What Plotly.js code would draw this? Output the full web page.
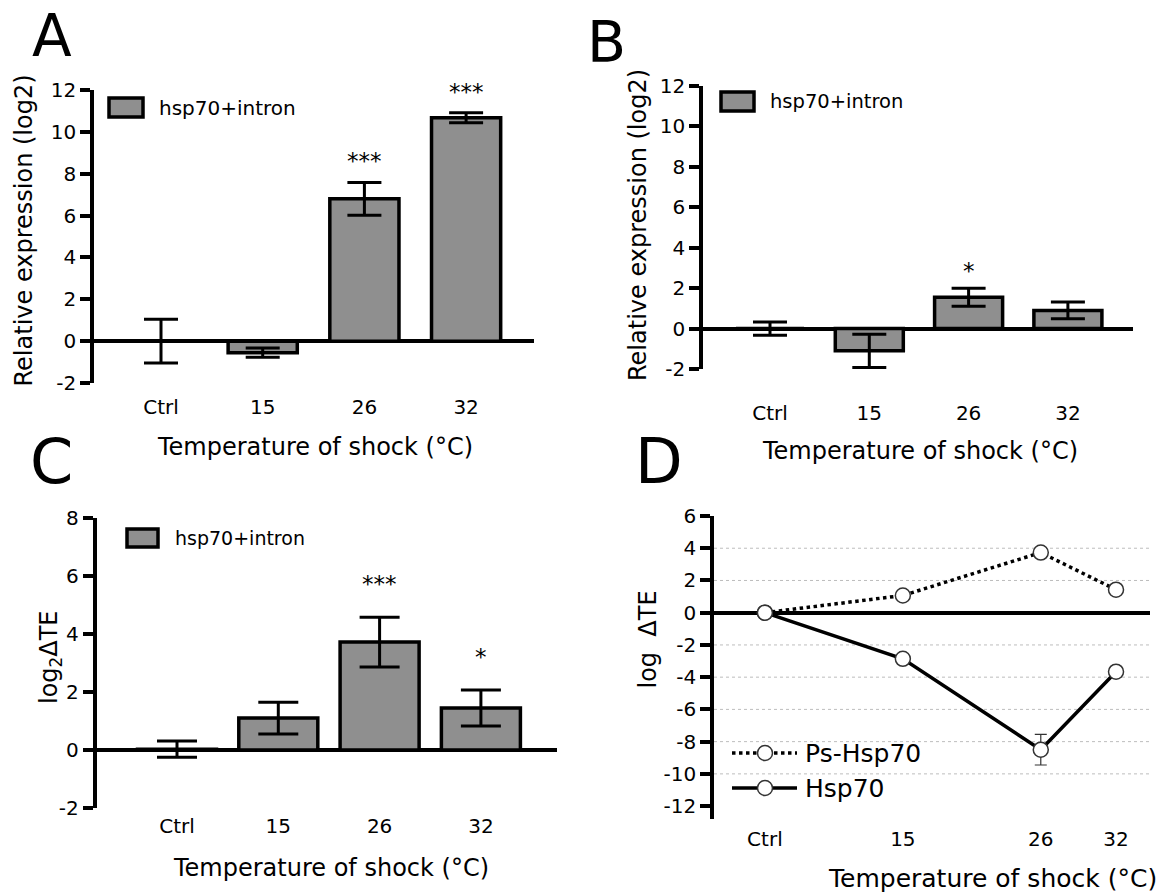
<!DOCTYPE html>
<html><head><meta charset="utf-8">
<script src="https://cdn.plot.ly/plotly-3.0.1.min.js"></script>
<style>html,body{margin:0;padding:0;background:#fff}#chart{width:1158px;height:892px}</style>
</head><body><div id="chart"></div>
<script>
// ---- data ----
const categories = ['Ctrl', '15', '26', '32'];
const barLegendName = 'hsp70+intron';

const panelAMean = [0, -0.55, 6.8, 10.67];
const panelAErr = [1.05, 0.22, 0.78, 0.24];
const panelAStars = ['', '', '***', '***'];

const panelBMean = [0, -1.1, 1.55, 0.9];
const panelBErr = [0.33, 0.82, 0.45, 0.42];
const panelBStars = ['', '', '*', ''];

const panelCMean = [0.03, 1.1, 3.72, 1.45];
const panelCErr = [0.28, 0.55, 0.86, 0.62];
const panelCStars = ['', '', '***', '*'];

const temperatureD = [4, 15, 26, 32];
const temperatureLabelsD = ['Ctrl', '15', '26', '32'];
const psHsp70Mean = [0, 1.07, 3.73, 1.43];
const psHsp70Err = [0.3, 0.2, 0.3, 0.2];
const hsp70Mean = [0, -2.86, -8.5, -3.66];
const hsp70Err = [0.3, 0.25, 0.95, 0.3];
const gridValuesD = [-10, -8, -6, -4, -2, 2, 4];

// y tick values and labels (plain hyphen for negatives, as in the figure)
const yTicksAB = [-2, 0, 2, 4, 6, 8, 10, 12];
const yTicksC = [-2, 0, 2, 4, 6, 8];
const yTicksD = [-12, -10, -8, -6, -4, -2, 0, 2, 4, 6];
const tickLabel = v => String(v).replace('\u2212', '-');

const xTitle = 'Temperature of shock (°C)';
const yTitleAB = 'Relative expression (log2)';
const yTitleC = 'log<sub>2</sub>ΔTE';
const yTitleD = 'log\u00a0\u00a0ΔTE';

// ---- helpers ----
const W = 1158, H = 892;
const fx = p => p / W;
const fy = p => 1 - p / H;
const FONT = 'DejaVu Sans, Arial, sans-serif';
const GRAY = '#8f8f8f';

function yAxis(domTop, domBot, range, anchor, ticks) {
  return {
    domain: [fy(domBot), fy(domTop)], range: range, anchor: anchor,
    showline: true, linecolor: '#000', linewidth: 3.5,
    ticks: 'outside', ticklen: 10, tickwidth: 3.5, tickcolor: '#000',
    tickmode: 'array', tickvals: ticks, ticktext: ticks.map(tickLabel),
    showgrid: false,
    zeroline: true, zerolinecolor: '#000', zerolinewidth: 4,
    tickfont: {family: FONT, size: 20, color: '#000'},
    automargin: false
  };
}
function xCatAxis(left, right, first, spacing, anchor, ticklen) {
  return {
    domain: [fx(left), fx(right)], anchor: anchor,
    type: 'category', categoryorder: 'array', categoryarray: categories,
    range: [(left - first) / spacing, (right - first) / spacing],
    showline: false, showgrid: false, zeroline: false,
    ticks: 'outside', ticklen: ticklen, tickcolor: 'rgba(0,0,0,0)',
    tickfont: {family: FONT, size: 20, color: '#000'},
    automargin: false
  };
}
function barTrace(means, errs, xa, ya, width, capw) {
  return {
    type: 'bar', x: categories, y: means, xaxis: xa, yaxis: ya,
    name: barLegendName, showlegend: false, width: width,
    marker: {color: GRAY, line: {color: '#000', width: 3.5}},
    error_y: {type: 'data', array: errs, visible: true, color: '#000', thickness: 3, width: capw}
  };
}

const traces = [
  barTrace(panelAMean, panelAErr, 'x', 'y', 0.68, 17),
  barTrace(panelBMean, panelBErr, 'x2', 'y2', 0.685, 17),
  barTrace(panelCMean, panelCErr, 'x3', 'y3', 0.78, 20),
  {
    type: 'scatter', mode: 'lines+markers', name: 'Hsp70', showlegend: false,
    x: temperatureD, y: hsp70Mean, xaxis: 'x4', yaxis: 'y4',
    line: {color: '#000', width: 3.5},
    marker: {symbol: 'circle', size: 15, color: '#fff', line: {color: '#333', width: 1.5}},
    error_y: {type: 'data', array: hsp70Err, visible: true, color: '#333', thickness: 1.2, width: 6}
  },
  {
    type: 'scatter', mode: 'lines+markers', name: 'Ps-Hsp70', showlegend: false,
    x: temperatureD, y: psHsp70Mean, xaxis: 'x4', yaxis: 'y4',
    line: {color: '#000', width: 3.5, dash: 'dot'},
    marker: {symbol: 'circle', size: 15, color: '#fff', line: {color: '#333', width: 1.5}},
    error_y: {type: 'data', array: psHsp70Err, visible: true, color: '#333', thickness: 1.2, width: 6}
  }
];

const annotations = [];
function paperText(t, xPx, yPx, size, opts) {
  annotations.push(Object.assign({text: t, xref: 'paper', yref: 'paper', x: fx(xPx), y: fy(yPx),
    xanchor: 'left', yanchor: 'middle', showarrow: false,
    font: {family: FONT, size: size, color: '#000'}}, opts || {}));
}
// panel letters
paperText('A', 30, 36, 58);
paperText('B', 585, 42.5, 57);
paperText('C', 28, 461, 62);
paperText('D', 633, 461.5, 62);

// axis titles
paperText(xTitle, 315, 447, 24, {xanchor: 'center'});
paperText(xTitle, 920, 451, 24, {xanchor: 'center'});
paperText(xTitle, 331, 868, 24, {xanchor: 'center'});
paperText(xTitle, 992, 878, 25, {xanchor: 'center'});
paperText(yTitleAB, 23, 230.5, 24, {xanchor: 'center', textangle: -90});
paperText(yTitleAB, 638, 225, 24, {xanchor: 'center', textangle: -90});
paperText(yTitleC, 50, 657, 24, {xanchor: 'center', textangle: -90});
paperText(yTitleD, 647.5, 640, 24, {xanchor: 'center', textangle: -90});

// legend texts
paperText(barLegendName, 157, 108, 20);
paperText(barLegendName, 768, 101.5, 19.5);
paperText(barLegendName, 173, 538, 19);
paperText('Ps-Hsp70', 803, 753, 25);
paperText('Hsp70', 803, 788, 25);

// significance stars, placed above each error bar
function stars(arr, means, errs, xa, ya, shift) {
  arr.forEach((s, i) => {
    if (!s) return;
    annotations.push({text: s, xref: xa, yref: ya, x: i, y: means[i] + errs[i],
      xanchor: 'center', yanchor: 'middle', yshift: shift, showarrow: false,
      font: {family: FONT, size: 23, color: '#000'}});
  });
}
stars(panelAStars, panelAMean, panelAErr, 'x', 'y', 21);
stars(panelBStars, panelBMean, panelBErr, 'x2', 'y2', 17);
stars(panelCStars, panelCMean, panelCErr, 'x3', 'y3', 33);

const shapes = [];
function legBox(x0, y0, x1, y1) {
  shapes.push({type: 'rect', xref: 'paper', yref: 'paper', x0: fx(x0), x1: fx(x1), y0: fy(y1), y1: fy(y0),
    fillcolor: GRAY, line: {color: '#000', width: 3.5}});
}
legBox(109, 98, 143, 117);
legBox(721, 92, 754, 111);
legBox(127, 529, 158, 547);
function legLine(y, dash) {
  shapes.push({type: 'line', xref: 'paper', yref: 'paper', x0: fx(732), x1: fx(797), y0: fy(y), y1: fy(y),
    line: {color: '#000', width: 3.5, dash: dash}});
  shapes.push({type: 'circle', xref: 'paper', yref: 'paper', x0: fx(757.5), x1: fx(772.5), y0: fy(y + 7.5), y1: fy(y - 7.5),
    fillcolor: '#fff', line: {color: '#333', width: 1.5}});
}
legLine(753, 'dot');
legLine(788, 'solid');
gridValuesD.forEach(v => shapes.push({type: 'line', xref: 'x4 domain', yref: 'y4', x0: 0, x1: 1, y0: v, y1: v,
  layer: 'below', line: {color: '#bdbdbd', width: 1, dash: 'dot'}}));

const layout = {
  width: W, height: H, margin: {l: 0, r: 0, t: 0, b: 0, autoexpand: false},
  paper_bgcolor: '#fff', plot_bgcolor: 'rgba(0,0,0,0)', showlegend: false,
  font: {family: FONT, color: '#000'},
  xaxis: xCatAxis(94, 534, 161, 101.7, 'y', 6),
  yaxis: yAxis(90, 383, [-2, 12], 'x', yTicksAB),
  xaxis2: xCatAxis(703, 1133, 770, 99.3, 'y2', 26),
  yaxis2: yAxis(86, 369, [-2, 12], 'x2', yTicksAB),
  xaxis3: xCatAxis(96.5, 557, 177, 101.3, 'y3', 0),
  yaxis3: yAxis(518, 808, [-2, 8], 'x3', yTicksC),
  xaxis4: {
    domain: [fx(714), fx(1150)], anchor: 'y4', range: [-0.06, 34.71],
    tickmode: 'array', tickvals: temperatureD, ticktext: temperatureLabelsD,
    showline: false, showgrid: false, zeroline: false,
    ticks: 'outside', ticklen: 2, tickcolor: 'rgba(0,0,0,0)',
    tickfont: {family: FONT, size: 20, color: '#000'}, automargin: false
  },
  yaxis4: yAxis(516, 819, [-12.8, 6], 'x4', yTicksD),
  annotations: annotations,
  shapes: shapes
};

Plotly.newPlot('chart', traces, layout, {displayModeBar: false, responsive: false});
</script>
</body></html>
